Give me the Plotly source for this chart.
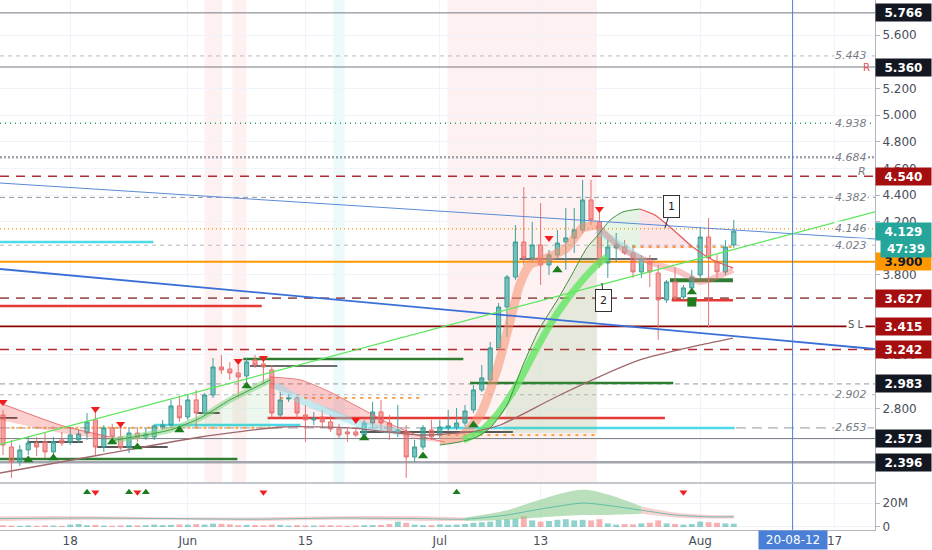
import plotly.graph_objects as go
from datetime import datetime, timedelta

START = datetime(2020, 5, 10)

# daily candles 10 May 2020 -> 5 Aug 2020
opens = [2.75, 2.51, 2.398, 2.488, 2.54, 2.548, 2.473, 2.563, 2.548, 2.563,
         2.615, 2.713, 2.51, 2.653, 2.585, 2.503, 2.615, 2.585, 2.585, 2.66,
         2.675, 2.818, 2.735, 2.863, 2.765, 2.90, 3.11, 3.095, 3.065, 3.043,
         3.163, 3.133, 3.088, 2.75, 2.87, 2.878, 2.75, 2.713, 2.735, 2.698,
         2.645, 2.623, 2.623, 2.60, 2.69, 2.773, 2.69, 2.623, 2.623, 2.435,
         2.51, 2.638, 2.60, 2.653, 2.66, 2.69, 2.788, 2.938, 3.013, 3.253,
         3.56, 3.785, 4.048, 3.928, 4.025, 3.875, 3.95, 4.048, 4.078, 4.138,
         4.363, 4.198, 3.89, 4.003, 4.01, 3.965, 3.823, 3.898, 3.815, 3.613,
         3.748, 3.635, 3.703, 3.80, 4.085, 3.898, 3.823, 4.025]
highs = [2.787, 2.562, 2.525, 2.592, 2.585, 2.622, 2.585, 2.622, 2.653, 2.638,
         2.765, 2.788, 2.675, 2.683, 2.675, 2.653, 2.653, 2.653, 2.683, 2.713,
         2.863, 2.893, 2.90, 2.938, 2.915, 3.178, 3.20, 3.148, 3.125, 3.178,
         3.20, 3.193, 3.125, 2.923, 2.908, 2.893, 2.825, 2.773, 2.788, 2.75,
         2.683, 2.653, 2.653, 2.713, 2.848, 2.863, 2.75, 2.825, 2.675, 2.563,
         2.675, 2.713, 2.713, 2.788, 2.803, 2.825, 2.975, 3.125, 3.298, 3.59,
         3.80, 4.175, 4.46, 4.198, 4.34, 3.988, 4.138, 4.303, 4.303, 4.513,
         4.513, 4.288, 4.063, 4.115, 4.063, 4.025, 3.95, 3.95, 3.875, 3.763,
         3.86, 3.725, 3.838, 4.16, 4.228, 3.95, 4.063, 4.213]
lows = [2.45, 2.278, 2.368, 2.45, 2.443, 2.428, 2.428, 2.518, 2.525, 2.54,
        2.563, 2.45, 2.473, 2.563, 2.488, 2.465, 2.548, 2.563, 2.563, 2.638,
        2.653, 2.698, 2.713, 2.653, 2.743, 2.878, 3.058, 3.013, 2.885, 2.998,
        3.103, 2.99, 2.728, 2.728, 2.848, 2.728, 2.548, 2.675, 2.653, 2.623,
        2.578, 2.548, 2.585, 2.563, 2.653, 2.638, 2.563, 2.585, 2.278, 2.398,
        2.488, 2.563, 2.578, 2.623, 2.638, 2.668, 2.765, 2.923, 2.99, 3.238,
        3.335, 3.763, 3.875, 3.898, 3.725, 3.80, 3.913, 3.838, 3.965, 4.115,
        4.175, 3.853, 3.778, 3.898, 3.95, 3.778, 3.778, 3.71, 3.313, 3.59,
        3.613, 3.613, 3.673, 3.778, 3.403, 3.778, 3.80, 4.003]
closes = [2.525, 2.398, 2.488, 2.54, 2.51, 2.473, 2.548, 2.54, 2.60, 2.608,
          2.698, 2.51, 2.653, 2.585, 2.503, 2.615, 2.578, 2.608, 2.668, 2.675,
          2.818, 2.728, 2.863, 2.765, 2.90, 3.11, 3.088, 3.065, 3.035, 3.148,
          3.125, 3.11, 2.765, 2.863, 2.878, 2.765, 2.713, 2.728, 2.698, 2.645,
          2.60, 2.608, 2.60, 2.69, 2.773, 2.69, 2.623, 2.638, 2.435, 2.51,
          2.653, 2.585, 2.66, 2.668, 2.69, 2.78, 2.938, 3.028, 3.253, 3.56,
          3.785, 4.048, 3.928, 4.025, 3.875, 3.95, 4.04, 4.078, 4.138, 4.363,
          4.213, 3.875, 4.01, 4.025, 3.965, 3.823, 3.913, 3.823, 3.613, 3.748,
          3.628, 3.703, 3.785, 4.085, 3.928, 3.823, 4.01, 4.129]
volumes_m = [1.5, 1.2, 1.0, 1.3, 1.0, 1.4, 1.2, 1.0, 2.0, 2.5,
             1.5, 1.8, 1.2, 1.0, 1.3, 1.6, 1.4, 1.5, 2.0, 1.6,
             1.8, 2.2, 1.9, 2.4, 2.0, 2.8, 2.6, 2.2, 1.5, 1.8,
             1.6, 1.4, 2.0, 1.8, 1.2, 1.5, 1.3, 1.2, 1.4, 1.5,
             1.2, 1.0, 1.3, 1.5, 1.6, 1.8, 2.5, 4.5, 3.5, 2.0,
             1.5, 1.6, 2.2, 1.8, 2.0, 2.5, 3.5, 4.0, 4.5, 6.0,
             6.5, 7.0, 9.0, 5.5, 4.5, 5.0, 6.0, 6.5, 5.5, 6.0,
             5.5, 6.5, 3.0, 2.0, 2.5, 2.2, 3.0, 3.5, 5.5, 3.0,
             2.5, 2.0, 2.5, 4.5, 4.0, 3.5, 3.0, 2.8]

# horizontal price levels drawn across the chart
level_prices = [5.766, 5.443, 5.360, 4.938, 4.684, 4.540, 4.382, 4.146, 4.023,
                3.900, 3.627, 3.415, 3.242, 2.983, 2.902, 2.653, 2.573, 2.396]
level_kinds = ['solid', 'dash_lt', 'solid', 'dot_green', 'dot_gray', 'dash_red', 'dash', 'dot_orange', 'dash_lt',
               'orange', 'dash_brown', 'darkred', 'dash_red', 'dash', 'dash_lt', 'dash_long', 'solid', 'solid_thick']

# price boxes on the right axis
box_prices = [5.766, 5.360, 4.540, 4.129, 3.900, 3.627, 3.415, 3.242, 2.983, 2.573, 2.396]
box_kinds = ['black', 'black', 'red', 'teal', 'orange', 'red', 'red', 'red', 'black', 'black', 'black']

# italic level tags inside the plot
tag_prices = [5.443, 4.938, 4.684, 4.382, 4.146, 4.023, 2.902, 2.653]

# short horizontal segments (price, start day, end day)
seg_prices = [4.047, 3.567, 3.17, 3.117, 2.765, 2.728, 2.547, 2.51, 2.42,
              2.99, 2.727, 2.675, 2.652, 2.622, 3.92, 3.76, 3.61]
seg_from = [-0.36, -0.36, 28.6, 29.4, 23.1, -0.36, 2.9, 11.2, -0.36,
            55.6, 31.5, 18.1, 52.0, 42.5, 61.5, 79.4, 79.6]
seg_to = [17.9, 30.8, 54.8, 39.8, 25.8, 1.7, 9.5, 19.6, 27.9,
          79.8, 78.8, 35.4, 87.1, 60.7, 77.9, 86.9, 86.9]
seg_kinds = ['cyan', 'red', 'green', 'gray', 'black', 'black', 'black', 'black', 'green',
             'green', 'red', 'cyan', 'cyan', 'black', 'gray', 'green_thick', 'red']

# orange "+" levels
plus_prices = [2.655, 2.877, 2.60, 4.01]
plus_from = [1, 33, 51, 74]
plus_to = [33, 50, 70.7, 87]

# trend lines: price at left and right edge
trend_left = [4.49, 3.845, 2.53]
trend_right = [4.07, 3.245, 4.273]

# moving average / ribbons (day offset, price)
ma_days = [-0.36, 11.5, 23.5, 33.3, 41.3, 49.6, 55.6, 59.2, 66.3, 75.8, 83.0, 86.9]
ma_vals = [2.315, 2.45, 2.585, 2.66, 2.653, 2.60, 2.623, 2.675, 2.90, 3.163, 3.275, 3.327]

curve_days = [52.0, 54.4, 56.4, 58.0, 60.0, 61.9, 63.9, 66.0, 67.5, 69.5, 70.7, 72.3, 73.8, 75.8,
              77.6, 79.4, 82.1, 84.5, 86.9]
curve_vals = [2.525, 2.548, 2.585, 2.653, 2.825, 3.125, 3.40, 3.613, 3.778, 4.003, 4.09, 4.213, 4.273, 4.295,
              4.25, 4.16, 4.01, 3.913, 3.853]

band_days = [54.8, 56.8, 58.8, 61.2, 63.1, 65.1, 67.1, 69.0, 70.7, 71.9]
band_vals = [2.563, 2.623, 2.75, 2.975, 3.20, 3.425, 3.613, 3.763, 3.875, 3.935]

fast_days = [52.0, 54.4, 56.8, 58.8, 60.4, 61.5, 62.7, 64.8, 67.1, 69.0, 70.7]
fast_vals = [2.563, 2.585, 2.75, 3.088, 3.463, 3.725, 3.875, 3.928, 4.003, 4.153, 4.175]
fade_days = [70.7, 73.5, 77.0, 80.6, 83.0, 86.9]
fade_vals = [4.175, 4.003, 3.898, 3.823, 3.748, 3.838]

r1_days = [-0.36, 6.8, 12.7]
r1_hi = [2.84, 2.675, 2.585]
r1_lo = [2.713, 2.615, 2.563]
g1_days = [12.7, 19.9, 23.5, 27.0, 29.4, 31.8]
g1_vals = [2.555, 2.638, 2.728, 2.863, 2.938, 3.013]
r2_days = [31.8, 35.4, 38.9, 42.5, 46.1, 49.6, 52.6]
r2_hi = [3.035, 3.013, 2.923, 2.803, 2.683, 2.593, 2.548]
r2_lo = [2.952, 2.892, 2.788, 2.698, 2.623, 2.563, 2.54]
cy1_days = [32.4, 35.4, 38.9, 42.5, 47.3]
cy1_vals = [2.975, 2.862, 2.772, 2.682, 2.622]
cy2_days = [70.7, 73.5, 76.4]
cy2_vals = [4.138, 4.025, 3.898]

# signals
sell_days = [0, 11, 14, 28, 31, 42, 65, 71]
sell_prices = [2.847, 2.795, 2.683, 3.155, 3.177, 2.713, 4.077, 4.295]
buy_days = [3, 6, 13, 16, 21, 29, 43, 50, 56, 66, 82]
buy_prices = [2.413, 2.427, 2.548, 2.51, 2.638, 2.967, 2.577, 2.442, 2.675, 3.838, 3.672]
vbuy_days = [10, 15, 17, 54]
vsell_days = [11, 16, 31, 81]

# background highlight columns
vband_from = [24.0, 27.3, 39.3, 52.9]
vband_to = [26.1, 29.0, 40.7, 70.7]
vband_kinds = ['pink', 'pink', 'cyan', 'pink']

# volume MA band (millions)
vb_days = [-0.36, 10, 20, 30, 40, 50, 55, 60, 64, 69, 72, 76, 80, 84, 87]
vb_lo = [5, 6, 6, 5, 6, 5, 5, 6, 8, 10, 10, 11, 8, 7, 7]
vb_hi = [9, 9, 8, 8, 9, 9, 8, 14, 23, 31, 27, 17, 12, 10, 10]
vb_mid = [7, 7.5, 7, 6.5, 7.5, 7, 6.5, 10, 15, 20, 18, 14, 10, 8.5, 8.5]

price_ticks = [2.8, 3.2, 3.8, 4.2, 4.4, 4.6, 4.8, 5.0, 5.2, 5.6]
tick_dates = [datetime(2020, 5, 18), datetime(2020, 6, 1), datetime(2020, 6, 15), datetime(2020, 7, 1),
              datetime(2020, 7, 13), datetime(2020, 8, 1), datetime(2020, 8, 17)]
tick_text = ['18', 'Jun', '15', 'Jul', '13', 'Aug', '17']


def day(d):
    return START + timedelta(days=d)


dates = [day(i) for i in range(len(closes))]
x_left, x_right = day(-0.36), day(103.81)
VOL_TOP = 0.0887

fig = go.Figure()

# ---- background columns
vband_colors = {'pink': 'rgba(242,54,69,0.07)', 'cyan': 'rgba(0,188,212,0.07)'}
for a, b, k in zip(vband_from, vband_to, vband_kinds):
    fig.add_shape(type='rect', xref='x', yref='paper', x0=day(a), x1=day(b), y0=VOL_TOP, y1=1,
                  fillcolor=vband_colors[k], line_width=0, layer='below')

# ---- level lines
level_styles = {
    'solid': dict(color='#787b86', width=1),
    'solid_thick': dict(color='#a3a6af', width=2.5),
    'dash_lt': dict(color='#b8bbc4', width=1, dash='4px,4px'),
    'dash': dict(color='#9598a1', width=1, dash='5px,4px'),
    'dash_long': dict(color='#9598a1', width=1, dash='10px,6px'),
    'dot_green': dict(color='#2e9d5a', width=1.5, dash='1px,4px'),
    'dot_gray': dict(color='#a0a3ab', width=2.5, dash='2px,2px'),
    'dash_red': dict(color='#b22833', width=1.5, dash='9px,7px'),
    'dot_orange': dict(color='#ffa726', width=1.5, dash='1px,3px'),
    'orange': dict(color='#ff9800', width=2),
    'dash_brown': dict(color='#9c5a5e', width=1.8, dash='9px,7px'),
    'darkred': dict(color='#8b0000', width=1.8),
}
for p, k in zip(level_prices, level_kinds):
    fig.add_shape(type='line', xref='x', yref='y', x0=x_left, x1=x_right, y0=p, y1=p,
                  line=level_styles[k], layer='between')

# ---- filled ribbons and areas


def fill_between(days, vals, lo_days, lo_vals, color):
    fig.add_trace(go.Scatter(x=[day(d) for d in lo_days], y=lo_vals, mode='lines',
                             line=dict(width=0), hoverinfo='skip'))
    fig.add_trace(go.Scatter(x=[day(d) for d in days], y=vals, mode='lines', line=dict(width=0),
                             fill='tonexty', fillcolor=color, hoverinfo='skip'))


def part(days, vals, d0, d1):
    sel = [(d, v) for d, v in zip(days, vals) if d0 <= d <= d1]
    return [s[0] for s in sel], [s[1] for s in sel]


cd, cv = part(curve_days, curve_vals, 60.0, 70.7)
fill_between(cd, cv, [59.5, 70.7], [2.615, 2.615], 'rgba(76,175,80,0.14)')
cd, cv = part(curve_days, curve_vals, 70.7, 75.8)
fill_between(cd, cv, [70.7, 75.8], [4.0, 4.0], 'rgba(76,175,80,0.14)')
cd, cv = part(curve_days, curve_vals, 75.8, 82.1)
fill_between(cd, cv, [75.8, 82.1], [4.0, 4.0], 'rgba(242,54,69,0.13)')
gd, gv = part(g1_days, g1_vals, 19.9, 31.8)
fill_between(gd, gv, [19.9, 31.8], [2.66, 2.66], 'rgba(76,175,80,0.10)')
rd, rv = part(r2_days, r2_hi, 31.8, 42.5)
fill_between(rd, rv, [31.8, 42.5], [2.72, 2.72], 'rgba(242,54,69,0.08)')
fill_between(r1_days, r1_hi, r1_days, r1_lo, 'rgba(239,83,80,0.28)')
fill_between(r2_days, r2_hi, r2_days, r2_lo, 'rgba(239,83,80,0.25)')


def line(days, vals, color, width, yaxis='y'):
    fig.add_trace(go.Scatter(x=[day(d) for d in days], y=vals, mode='lines', yaxis=yaxis,
                             line=dict(color=color, width=width, shape='spline', smoothing=0.6),
                             hoverinfo='skip'))


line(r1_days, r1_hi, 'rgba(229,90,90,0.8)', 1)
line(r2_days, r2_hi, 'rgba(229,90,90,0.8)', 1)
line(cy1_days, cy1_vals, 'rgba(128,222,234,0.45)', 7)
line(cy2_days, cy2_vals, 'rgba(128,222,234,0.5)', 7)
line(g1_days, g1_vals, 'rgba(129,212,129,0.55)', 6)
line(g1_days, g1_vals, '#43a047', 1)
line(fast_days, fast_vals, 'rgba(244,143,110,0.55)', 9)
line(fade_days, fade_vals, 'rgba(239,110,110,0.4)', 6)
line(band_days, band_vals, 'rgba(100,230,100,0.8)', 7)
gd, gv = part(curve_days, curve_vals, 52.0, 75.8)
line(gd, gv, '#3d8f3d', 1)
rd, rv = part(curve_days, curve_vals, 75.8, 86.9)
line(rd, rv, '#e05a5a', 1.2)
line(ma_days, ma_vals, '#a0686c', 1.3)

# ---- short segments
seg_styles = {
    'cyan': dict(color='#4dd9e8', width=2.5),
    'red': dict(color='#e53935', width=2.5),
    'green': dict(color='#2e7d32', width=2.5),
    'green_thick': dict(color='#2e7d32', width=4),
    'gray': dict(color='#6d6d6d', width=2),
    'black': dict(color='#222222', width=1.5),
}
for p, a, b, k in zip(seg_prices, seg_from, seg_to, seg_kinds):
    fig.add_shape(type='line', xref='x', yref='y', x0=day(a), x1=day(b), y0=p, y1=p,
                  line=seg_styles[k], layer='between')
for p, a, b in zip(plus_prices, plus_from, plus_to):
    fig.add_shape(type='line', xref='x', yref='y', x0=day(a), x1=day(b), y0=p, y1=p,
                  line=dict(color='#ffa040', width=2, dash='3px,5px'), layer='between')

# ---- candles
fig.add_trace(go.Candlestick(
    x=dates, open=opens, high=highs, low=lows, close=closes,
    increasing=dict(line=dict(color='#3e9f97', width=1), fillcolor='rgba(38,166,154,0.65)'),
    decreasing=dict(line=dict(color='#e57373', width=1), fillcolor='rgba(239,83,80,0.55)'),
    whiskerwidth=0, hoverinfo='skip'))

# ---- trend lines
trend_styles = [dict(color='#5b8bd6', width=1), dict(color='#3a6fd8', width=1.8),
                dict(color='#5ce65c', width=1.3)]
for a, b, st in zip(trend_left, trend_right, trend_styles):
    fig.add_trace(go.Scatter(x=[x_left, x_right], y=[a, b], mode='lines', line=st, hoverinfo='skip'))

# ---- signals
fig.add_trace(go.Scatter(x=[day(d) for d in sell_days], y=sell_prices, mode='markers',
                         marker=dict(symbol='triangle-down', size=8, color='#f01e1e'), hoverinfo='skip'))
fig.add_trace(go.Scatter(x=[day(d) for d in buy_days], y=buy_prices, mode='markers',
                         marker=dict(symbol='triangle-up', size=9, color='#1e7b1e'), hoverinfo='skip'))
fig.add_trace(go.Scatter(x=[day(82)], y=[3.597], mode='markers',
                         marker=dict(symbol='square', size=9, color='#1e7b1e'), hoverinfo='skip'))

# ---- volume pane
vol_colors = ['rgba(38,166,154,0.5)' if c >= o else 'rgba(239,83,80,0.45)' for o, c in zip(opens, closes)]
fig.add_trace(go.Bar(x=dates, y=volumes_m, marker=dict(color=vol_colors, line_width=0), yaxis='y2',
                     hoverinfo='skip'))
vb_segments = [(0, 6, 'rgba(239,154,154,0.45)'), (6, 11, 'rgba(129,199,132,0.55)'),
               (11, 14, 'rgba(239,154,154,0.45)')]
for i0, i1, col in vb_segments:
    xs = [day(d) for d in vb_days[i0:i1 + 1]]
    fig.add_trace(go.Scatter(x=xs, y=vb_lo[i0:i1 + 1], mode='lines', line=dict(width=0, shape='spline'),
                             yaxis='y2', hoverinfo='skip'))
    fig.add_trace(go.Scatter(x=xs, y=vb_hi[i0:i1 + 1], mode='lines', line=dict(width=0, shape='spline'),
                             fill='tonexty', fillcolor=col, yaxis='y2', hoverinfo='skip'))
line(vb_days, vb_mid, 'rgba(38,166,154,0.6)', 1, yaxis='y2')
fig.add_trace(go.Scatter(x=[day(d) for d in vbuy_days], y=[29] * len(vbuy_days), mode='markers', yaxis='y2',
                         marker=dict(symbol='triangle-up', size=7, color='#1e7b1e'), hoverinfo='skip'))
fig.add_trace(go.Scatter(x=[day(d) for d in vsell_days], y=[29] * len(vsell_days), mode='markers', yaxis='y2',
                         marker=dict(symbol='triangle-down', size=7, color='#f01e1e'), hoverinfo='skip'))

# ---- crosshair and pane separator
fig.add_shape(type='line', xref='x', yref='paper', x0=day(94), x1=day(94), y0=0, y1=1,
              line=dict(color='#4a7fd8', width=1))
fig.add_shape(type='line', xref='paper', yref='paper', x0=0, x1=1, y0=VOL_TOP, y1=VOL_TOP,
              line=dict(color='#b2b5be', width=1.5))

# ---- right-hand price boxes
box_colors = {'black': ('#131722', 'white'), 'red': ('#a50e0e', 'white'),
              'teal': ('#26a69a', 'white'), 'orange': ('#ff9800', '#131722')}
for p, k in zip(box_prices, box_kinds):
    bg, fg = box_colors[k]
    fig.add_annotation(x=1, xref='paper', y=p, yref='y', xanchor='left', yanchor='middle',
                       text='<b>%.3f</b>' % p, showarrow=False, bgcolor=bg, width=53, height=15,
                       borderpad=1, font=dict(color=fg, size=12, family='DejaVu Sans'))
fig.add_annotation(x=1, xref='paper', y=4.129, yref='y', xanchor='left', yanchor='middle', yshift=-17,
                   xshift=5, text='<b>47:39</b>', showarrow=False, bgcolor='#26a69a', width=48, height=15,
                   borderpad=1, font=dict(color='white', size=12, family='DejaVu Sans'))

for p in tag_prices:
    fig.add_annotation(x=0.992, xref='paper', y=p, yref='y', xanchor='right', yanchor='middle',
                       text='<i>%.3f</i>' % p, showarrow=False, bgcolor='white', borderpad=0,
                       font=dict(color='#787b86', size=11, family='DejaVu Sans'))
fig.add_annotation(x=0.992, xref='paper', y=4.684, yref='y', xanchor='right', yanchor='top', yshift=-6,
                   text='<i>R</i>', showarrow=False, font=dict(color='#787b86', size=11))
fig.add_annotation(x=0.996, xref='paper', y=5.360, yref='y', xanchor='right', yanchor='middle',
                   text='R', showarrow=False, font=dict(color='#e05050', size=10))
fig.add_annotation(x=0.99, xref='paper', y=3.415, yref='y', xanchor='right', yanchor='bottom', yshift=-6,
                   text='S L', showarrow=False, bgcolor='white', font=dict(color='#555', size=10))

# ---- callouts
fig.add_annotation(x=day(78.8), y=4.152, text='1', ax=7, ay=-22, showarrow=True, arrowhead=0,
                   arrowcolor='#333', arrowwidth=1, bordercolor='#333', borderwidth=1, borderpad=4,
                   bgcolor='white', font=dict(size=11, color='#222'))
fig.add_annotation(x=day(71.3), y=3.74, text='2', ax=2, ay=18, showarrow=True, arrowhead=0,
                   arrowcolor='#333', arrowwidth=1, bordercolor='#333', borderwidth=1, borderpad=4,
                   bgcolor='white', font=dict(size=11, color='#222'))

# ---- crosshair date label
fig.add_annotation(x=day(94), xref='x', y=0, yref='paper', yanchor='top', yshift=0, text='20-08-12',
                   showarrow=False, bgcolor='#4a7fd8', width=66, height=16, borderpad=1,
                   font=dict(color='white', size=12, family='DejaVu Sans'))

fig.update_layout(
    width=932, height=550,
    margin=dict(l=0, r=57, t=0, b=20, autoexpand=False),
    paper_bgcolor='white', plot_bgcolor='white',
    showlegend=False, bargap=0.3,
    font=dict(family='DejaVu Sans', size=12, color='#4a4e59'),
    xaxis=dict(type='date', range=[x_left, x_right], rangeslider=dict(visible=False), anchor='y2',
               tickvals=tick_dates, ticktext=tick_text, showgrid=True, gridcolor='#f0f3fa',
               showline=True, linecolor='#b2b5be', ticks='', zeroline=False, automargin=False),
    yaxis=dict(domain=[VOL_TOP, 1], range=[2.24, 5.8625], side='right', anchor='x',
               tickvals=price_ticks, ticktext=['%.3f' % t for t in price_ticks],
               showgrid=True, gridcolor='#f0f3fa', showline=True, linecolor='#b2b5be',
               ticks='outside', ticklen=4, tickcolor='#b2b5be', zeroline=False, automargin=False),
    yaxis2=dict(domain=[0, VOL_TOP], range=[-2.5, 36.7], side='right', anchor='x',
                tickvals=[0, 20], ticktext=['0', '20M'], showgrid=True, gridcolor='#f0f3fa',
                showline=True, linecolor='#b2b5be', ticks='outside', ticklen=4, tickcolor='#b2b5be',
                zeroline=False, automargin=False),
)

fig.write_html('out.html', config={'displayModeBar': False},
               post_script="document.body.style.margin='0';document.body.style.overflow='hidden';")
